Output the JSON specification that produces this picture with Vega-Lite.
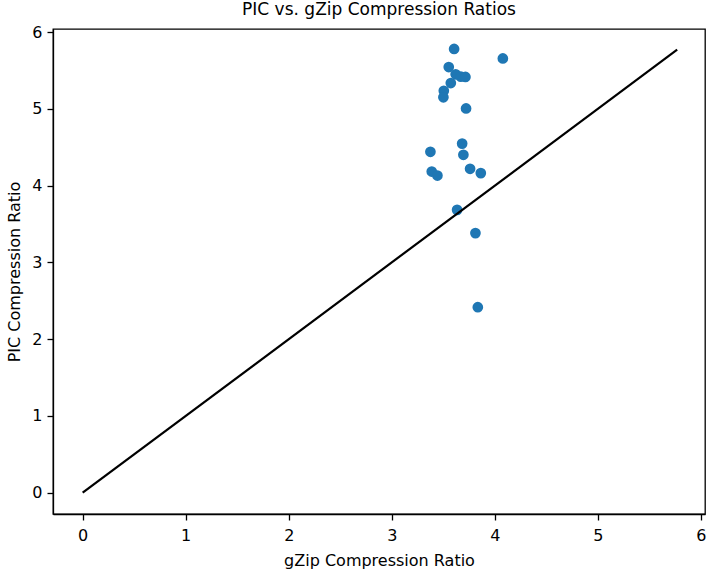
{
  "$schema": "https://vega.github.io/schema/vega-lite/v6.json",
  "width": 652,
  "height": 485,
  "autosize": {"type": "none"},
  "padding": {"left": 53, "top": 29, "right": 2, "bottom": 58},
  "background": "white",
  "title": {"text": "PIC vs. gZip Compression Ratios", "font": "DejaVu Sans", "fontSize": 17, "fontWeight": "normal", "color": "black", "offset": 5, "anchor": "middle"},
  "config": {
    "view": {"stroke": "black", "strokeWidth": 1.3},
    "axis": {
      "labelFont": "DejaVu Sans", "labelFontSize": 16, "labelColor": "black",
      "titleFont": "DejaVu Sans", "titleFontSize": 16, "titleColor": "black", "titleFontWeight": "normal",
      "grid": false, "domainColor": "black", "domainWidth": 1.3, "tickColor": "black", "tickSize": 6, "tickWidth": 1.3,
      "labelPadding": 5
    }
  },
  "datasets": {
    "points": [
      {"gzip": 3.605, "pic": 5.78},
      {"gzip": 4.078, "pic": 5.656},
      {"gzip": 3.553, "pic": 5.544},
      {"gzip": 3.62, "pic": 5.45},
      {"gzip": 3.67, "pic": 5.42},
      {"gzip": 3.715, "pic": 5.415},
      {"gzip": 3.573, "pic": 5.336},
      {"gzip": 3.505, "pic": 5.235},
      {"gzip": 3.501, "pic": 5.15},
      {"gzip": 3.721, "pic": 5.005},
      {"gzip": 3.683, "pic": 4.547},
      {"gzip": 3.695, "pic": 4.401},
      {"gzip": 3.375, "pic": 4.44},
      {"gzip": 3.388, "pic": 4.183},
      {"gzip": 3.443, "pic": 4.131},
      {"gzip": 3.76, "pic": 4.219},
      {"gzip": 3.864, "pic": 4.163},
      {"gzip": 3.634, "pic": 3.684},
      {"gzip": 3.812, "pic": 3.381},
      {"gzip": 3.835, "pic": 2.416}
    ],
    "diag": [
      {"gzip": 0, "pic": 0},
      {"gzip": 5.77, "pic": 5.77}
    ]
  },
  "layer": [
    {
      "data": {"name": "points"},
      "mark": {"type": "point", "filled": true, "shape": "circle", "size": 115, "color": "#1f77b4", "opacity": 1},
      "encoding": {
        "x": {"field": "gzip", "type": "quantitative", "scale": {"domain": [-0.288, 6.04], "nice": false, "zero": false}, "axis": {"title": "gZip Compression Ratio", "values": [0,1,2,3,4,5,6], "format": "d", "labelPadding": 7, "titlePadding": 9}},
        "y": {"field": "pic", "type": "quantitative", "scale": {"domain": [-0.278, 6.04], "nice": false, "zero": false}, "axis": {"title": "PIC Compression Ratio", "values": [0,1,2,3,4,5,6], "format": "d", "titlePadding": 9}}
      }
    },
    {
      "data": {"name": "diag"},
      "mark": {"type": "line", "color": "black", "strokeWidth": 2.2},
      "encoding": {
        "x": {"field": "gzip", "type": "quantitative"},
        "y": {"field": "pic", "type": "quantitative"}
      }
    }
  ]
}
